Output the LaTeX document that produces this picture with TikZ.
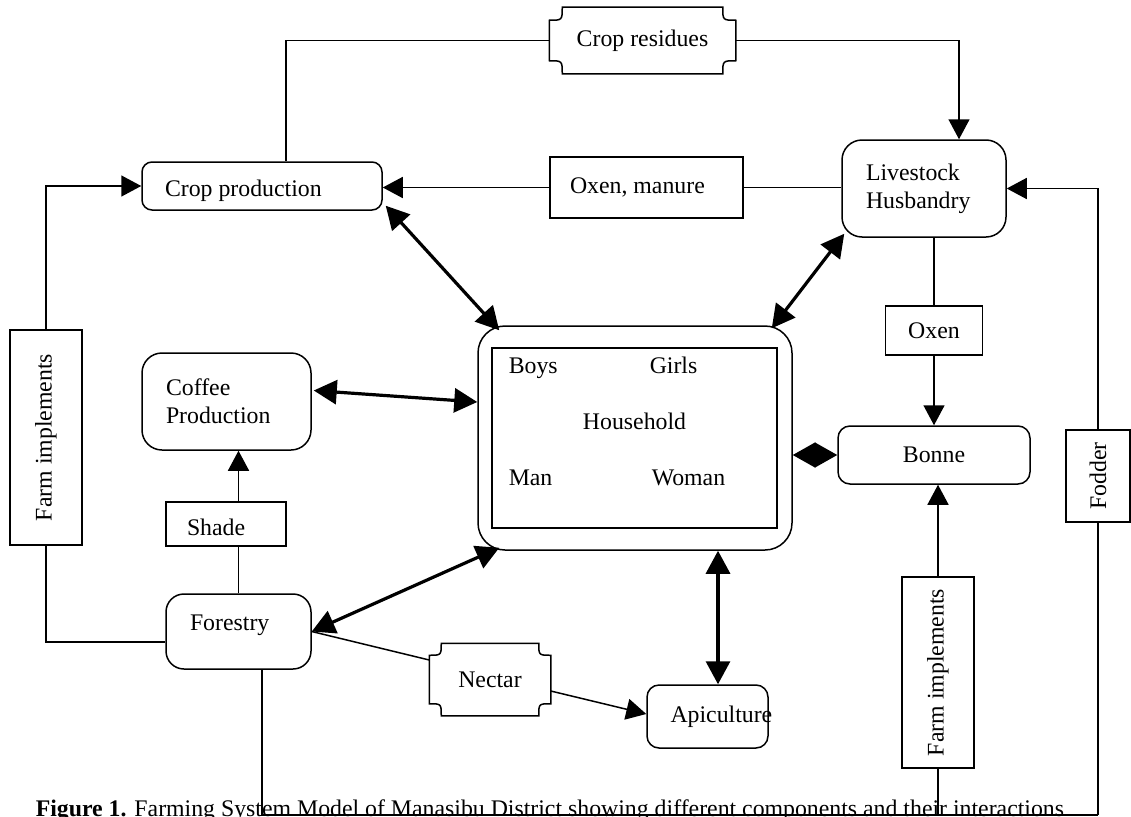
\documentclass[tikz,border=0pt]{standalone}
\usepackage{fontspec}
\setmainfont{Liberation Serif}
\usepackage{graphicx}
\usetikzlibrary{arrows.meta,calc}

\newcommand\tapeoutline[2]{%
  \draw[line width=1.5pt]
   ([xshift=#2]#1.north west) -- ([xshift=-#2]#1.north east)
   .. controls ([xshift=-#2,yshift=-#2]#1.north east) .. ([yshift=-#2]#1.north east)
   -- ([yshift=#2]#1.south east)
   .. controls ([xshift=-#2,yshift=#2]#1.south east) .. ([xshift=-#2]#1.south east)
   -- ([xshift=#2]#1.south west)
   .. controls ([xshift=#2,yshift=#2]#1.south west) .. ([yshift=#2]#1.south west)
   -- ([yshift=-#2]#1.north west)
   .. controls ([xshift=#2,yshift=-#2]#1.north west) .. cycle;}

\begin{document}
\begin{tikzpicture}[x=1pt,y=-1pt,
  font=\fontsize{23.8pt}{28pt}\selectfont,
  line width=1.5pt,
  box/.style={draw, line width=1.5pt, inner sep=0pt},
  rbox/.style={box, rounded corners=#1},
  rbox/.default=10pt,
  arr/.style={-{Triangle[length=20pt,width=21pt]}},
  dbl/.style={line width=3.2pt, {Triangle[length=23pt,width=24pt]}-{Triangle[length=23pt,width=24pt]}},
  diam/.style={{Triangle[length=22.5pt,width=25pt]}-{Triangle[length=22.5pt,width=25pt]}},
  txt/.style={inner sep=0pt, anchor=base west}
]
\useasboundingbox (0,0) rectangle (1131,816);
\clip (0,0) rectangle (1131,816);

% boxes
\node[inner sep=0pt, minimum width=185pt, minimum height=65pt] (cres) at (642.5,40.5) {Crop residues};
\tapeoutline{cres}{13pt}

\node[rbox, minimum width=240pt, minimum height=48pt, inner xsep=23pt, text height=24pt, text depth=4pt] (cprod) at (262,186) {\makebox[194pt][l]{Crop production}};

\node[box, minimum width=193pt, minimum height=61pt, inner xsep=20pt] (oxman) at (646.5,187.5) {\makebox[153pt][l]{Oxen, manure}};

\node[rbox=20pt, minimum width=164pt, minimum height=97pt, inner xsep=24pt, align=left, text width=116pt] (live) at (924,188.5) {Livestock\\Husbandry};

\node[box, minimum width=72pt, minimum height=215pt] (ffl) at (46,437.5) {\rotatebox{90}{Farm implements}};

\node[rbox=20pt, minimum width=169pt, minimum height=97pt, inner xsep=24pt, align=left, text width=121pt] (coffee) at (226.5,401.5) {Coffee\\Production};

\node[box, minimum width=120pt, minimum height=44pt, inner xsep=21pt, text height=22pt, text depth=0pt] (shade) at (226,524) {\makebox[78pt][l]{Shade}};

\node[rbox=18pt, minimum width=145pt, minimum height=75pt, inner xsep=24pt, text height=16pt, text depth=18pt] (forestry) at (238.5,631.5) {\makebox[97pt][l]{Forestry}};

\node[rbox=27pt, minimum width=314pt, minimum height=224pt] (hh) at (635,438) {};
\node[draw, line width=2.5pt, minimum width=285pt, minimum height=180pt, inner sep=0pt] (hhin) at (634.5,438) {};
\node[txt] (boys) at (508,373) {Boys};
\node[txt] (girls) at (649,373) {Girls};
\node[inner sep=0pt, anchor=base] (hhtext) at (634.5,429) {Household};
\node[txt] (man) at (508,485) {Man};
\node[txt] (woman) at (651,485) {Woman};

\node[box, minimum width=97pt, minimum height=49pt] (oxen) at (934,330.5) {Oxen};
\node[rbox=12pt, minimum width=192pt, minimum height=58pt] (bonne) at (934,455) {Bonne};
\node[box, minimum width=64pt, minimum height=92pt] (fodder) at (1098,476) {\rotatebox{90}{Fodder}};
\node[box, minimum width=72pt, minimum height=191pt] (ffr) at (938,672.5) {\rotatebox{90}{Farm implements}};

\node[inner sep=0pt, minimum width=120pt, minimum height=71pt] (nectar) at (490,679.5) {Nectar};
\tapeoutline{nectar}{12pt}

\node[rbox=12pt, minimum width=121pt, minimum height=63pt, inner xsep=23.5pt] (apic) at (707.5,716.5) {\makebox[74pt][l]{Apiculture}};

\node[inner sep=0pt, anchor=base west] (cap) at (35,816.5) {\textbf{Figure 1.} Farming System Model of Manasibu District showing different components and their interactions};

% connectors
\draw (cres.west) -| ([xshift=24pt]cprod.north);
\draw[arr] (cres.east) -| ([xshift=35pt]live.north);
\draw[arr] (oxman.west) -- (oxman.west -| cprod.east);
\draw (oxman.east) -- (oxman.east -| live.west);
\draw[arr] (ffl.north) |- (cprod.west);
\draw (ffl.south) |- ([yshift=-10.5pt]forestry.west);
\draw (forestry.north) -- (forestry.north |- shade.south);
\draw[arr] (forestry.north |- shade.north) -- (forestry.north |- coffee.south);
\coordinate (br) at (1098,815);
\draw ([xshift=23.5pt]forestry.south) |- (br);
\draw (ffr.south) -- (ffr.south |- br);
\draw (fodder.south) -- (br);
\draw[arr] (fodder.north) |- (live.east);
\draw (oxen.north |- live.south) -- (oxen.north);
\draw[arr] (oxen.south) -- (bonne.north);
\draw[arr] (ffr.north) -- (ffr.north |- bonne.south);
\draw[diam] (bonne.west -| hh.east) -- (bonne.west);

\draw[dbl] ([xshift=3pt,yshift=5pt]cprod.south east) -- ([xshift=22pt,yshift=-5pt]hh.north west);
\draw[dbl] ([xshift=3pt,yshift=4pt]live.south west) -- ([xshift=-21pt,yshift=-3pt]hh.north east);
\draw[dbl] ([xshift=2pt,yshift=11pt]coffee.east) -- ([yshift=36pt]hh.west);
\draw[dbl] (forestry.east) -- ([xshift=22pt,yshift=3pt]hh.south west);
\draw[dbl] ([xshift=83pt]hh.south) -- ([xshift=83pt]hh.south |- apic.north);

\draw (forestry.east) -- ([yshift=19.5pt]nectar.west);
\draw[arr] ([yshift=-11.5pt]nectar.east) -- ([yshift=2.5pt]apic.west);
\end{tikzpicture}
\end{document}
